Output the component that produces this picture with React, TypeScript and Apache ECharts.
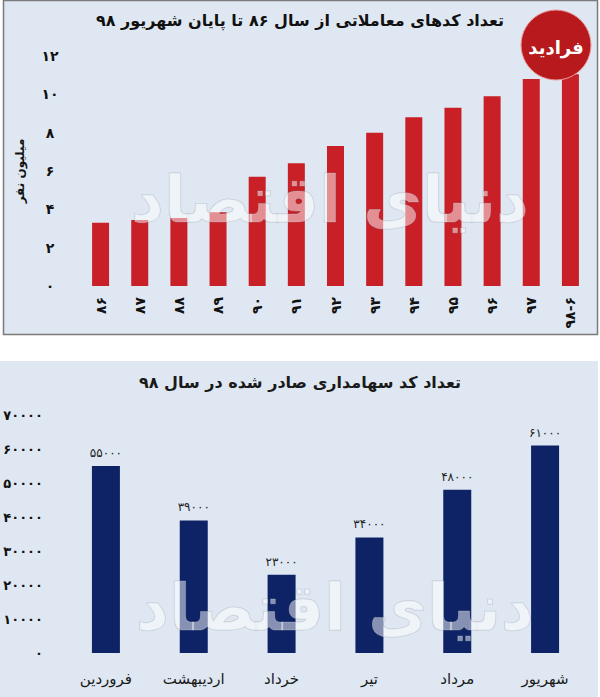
import React, { useEffect, useRef } from "react";
import * as echarts from "echarts";

// ---- data ----
const yearCategories = ["۸۶", "۸۷", "۸۸", "۸۹", "۹۰", "۹۱", "۹۲", "۹۳", "۹۴", "۹۵", "۹۶", "۹۷", "۹۸-۶"];
const yearValues = [3.3, 3.45, 3.55, 3.85, 5.7, 6.4, 7.3, 8.0, 8.8, 9.3, 9.9, 10.8, 11.05];
const yearAxisMax = 12;
const yearAxisStep = 2;

const monthCategories = ["فروردین", "اردیبهشت", "خرداد", "تیر", "مرداد", "شهریور"];
const monthValues = [55000, 39000, 23000, 34000, 48000, 61000];
const monthAxisMax = 70000;
const monthAxisStep = 10000;

const topTitle = "تعداد کدهای معاملاتی از سال ۸۶ تا پایان شهریور ۹۸";
const bottomTitle = "تعداد کد سهامداری صادر شده در سال ۹۸";
const topAxisName = "میلیون نفر";
const watermark = "دنیای اقتصاد";
const logoText = "فرادید";

const FA = "۰۱۲۳۴۵۶۷۸۹";
const toFa = (v: number | string) => String(v).replace(/[0-9]/g, (d) => FA[Number(d)]);

const FONT = "'DejaVu Sans', 'Noto Sans', sans-serif";

export default function App() {
  const ref = useRef<HTMLDivElement>(null);
  useEffect(() => {
    if (!ref.current) return;
    const chart = echarts.init(ref.current, null, { renderer: "svg" });
    const wm = (x: number, y: number) => ({
      type: "text",
      z: 8,
      silent: true,
      x,
      y,
      style: {
        text: watermark,
        font: `bold 64px ${FONT}`,
        fill: "rgba(255,255,255,0.5)",
        stroke: "rgba(140,150,165,0.4)",
        lineWidth: 1,
        align: "center",
        verticalAlign: "middle",
      },
    });
    chart.setOption({
      animation: false,
      backgroundColor: "#ffffff",
      textStyle: { fontFamily: FONT },
      graphic: [
        {
          type: "rect",
          z: -10,
          shape: { x: 3.5, y: 0.5, width: 594, height: 334 },
          style: { fill: "#dfe8f2", stroke: "#7a7a7a", lineWidth: 1.5 },
        },
        {
          type: "rect",
          z: -10,
          shape: { x: 0, y: 361, width: 598, height: 336 },
          style: { fill: "#dfe8f2" },
        },
        {
          type: "text",
          z: 20,
          x: 300,
          y: 20,
          style: {
            text: topTitle,
            font: `bold 16px ${FONT}`,
            fill: "#111",
            align: "center",
            verticalAlign: "middle",
          },
        },
        {
          type: "text",
          z: 20,
          x: 300,
          y: 382,
          style: {
            text: bottomTitle,
            font: `bold 16px ${FONT}`,
            fill: "#1a1a1a",
            align: "center",
            verticalAlign: "middle",
          },
        },
        wm(330, 200),
        wm(335, 608),
        {
          type: "circle",
          z: 30,
          shape: { cx: 556, cy: 45, r: 35 },
          style: { fill: "#b8191d", stroke: "#e9a0a0", lineWidth: 1 },
        },
        {
          type: "text",
          z: 31,
          x: 556,
          y: 47,
          style: {
            text: logoText,
            font: `bold 18px ${FONT}`,
            fill: "#ffffff",
            align: "center",
            verticalAlign: "middle",
          },
        },
      ],
      grid: [
        { left: 81, right: 10, top: 56, bottom: 411, containLabel: false },
        { left: 62, right: 11, top: 415, bottom: 44, containLabel: false },
      ],
      xAxis: [
        {
          type: "category",
          gridIndex: 0,
          data: yearCategories,
          axisLine: { show: false },
          axisTick: { show: false },
          axisLabel: {
            rotate: 90,
            margin: 11,
            color: "#111",
            fontWeight: "bold",
            fontSize: 14,
            fontFamily: FONT,
          },
        },
        {
          type: "category",
          gridIndex: 1,
          data: monthCategories,
          axisLine: { show: false },
          axisTick: { show: false },
          axisLabel: {
            margin: 18,
            color: "#1a1a1a",
            fontSize: 15,
            fontFamily: FONT,
          },
        },
      ],
      yAxis: [
        {
          type: "value",
          gridIndex: 0,
          min: 0,
          max: yearAxisMax,
          interval: yearAxisStep,
          splitLine: { show: false },
          axisLine: { show: false },
          axisTick: { show: false },
          name: topAxisName,
          nameLocation: "middle",
          nameRotate: 90,
          nameGap: 55,
          nameTextStyle: { color: "#111", fontWeight: "bold", fontSize: 12, fontFamily: FONT },
          axisLabel: {
            align: "center",
            margin: 31,
            color: "#111",
            fontWeight: "bold",
            fontSize: 14,
            fontFamily: FONT,
            formatter: (v: number) => toFa(v),
          },
        },
        {
          type: "value",
          gridIndex: 1,
          min: 0,
          max: monthAxisMax,
          interval: monthAxisStep,
          splitLine: { show: false },
          axisLine: { show: false },
          axisTick: { show: false },
          axisLabel: {
            align: "right",
            margin: 19,
            color: "#111",
            fontWeight: "bold",
            fontSize: 13,
            fontFamily: FONT,
            formatter: (v: number) => toFa(v),
          },
        },
      ],
      series: [
        {
          type: "bar",
          xAxisIndex: 0,
          yAxisIndex: 0,
          data: yearValues,
          barWidth: 17,
          itemStyle: { color: "#c91f27" },
        },
        {
          type: "bar",
          xAxisIndex: 1,
          yAxisIndex: 1,
          data: monthValues,
          barWidth: 28,
          itemStyle: { color: "#0e2366" },
          label: {
            show: true,
            position: "top",
            distance: 7,
            color: "#222",
            fontSize: 12,
            fontFamily: FONT,
            formatter: (p: any) => toFa(p.value),
          },
        },
      ],
    });
    return () => chart.dispose();
  }, []);
  return (
    <div
      ref={ref}
      style={{ position: "absolute", left: 0, top: 0, width: 600, height: 697 }}
    />
  );
}
